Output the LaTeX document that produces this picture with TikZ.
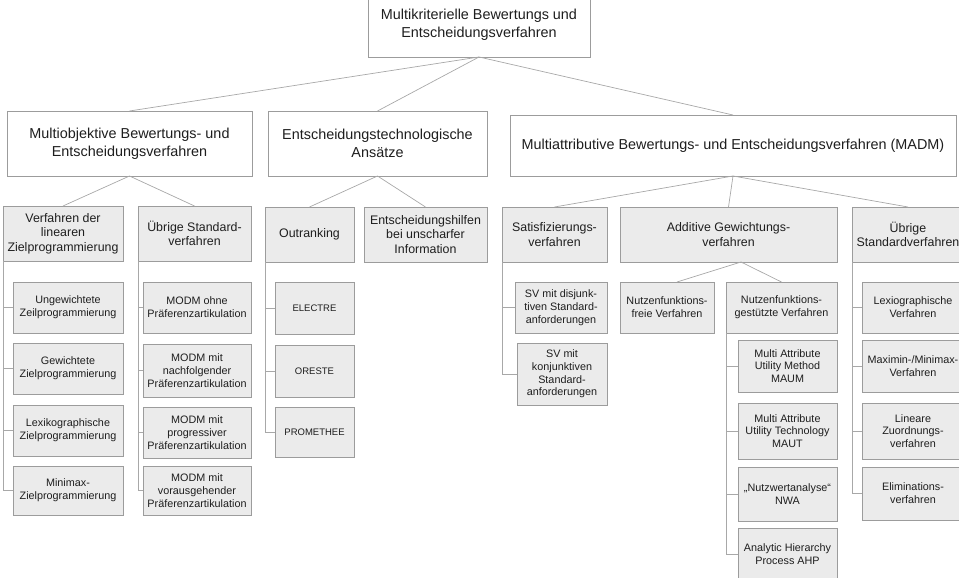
\documentclass[tikz,border=0pt]{standalone}
\usepackage{fontspec}
\setmainfont{Liberation Sans}
\definecolor{boxline}{HTML}{9C9C9C}
\definecolor{boxfill}{HTML}{EBEBEB}
\definecolor{linkcol}{HTML}{A8A8A8}
\definecolor{txt}{HTML}{1E1E1E}
\tikzset{
  basebox/.style={draw=boxline, line width=0.8pt, inner sep=0pt, outer sep=0pt,
    align=center, text=txt},
  headbox/.style={basebox, fill=white, font=\fontsize{14.4}{18}\selectfont},
  groupbox/.style={basebox, fill=boxfill, font=\fontsize{12.4}{14.7}\selectfont},
  leafbox/.style={basebox, fill=boxfill, font=\fontsize{10.8}{12.8}\selectfont},
  smallleaf/.style={basebox, fill=boxfill, font=\fontsize{9.5}{11}\selectfont},
  link/.style={draw=linkcol, line width=0.7pt},
}
% box given by its corners in pixel units: style, name, x1, y1, x2, y2, text
\newcommand\kbox[7]{%
  \node[#1, minimum width={(#5-#3)*1pt}, minimum height={(#6-#4)*1pt}]
    (#2) at ({(#3+#5)/2},{(#4+#6)/2}) {#7};}
\begin{document}
\begin{tikzpicture}[x=1pt, y=-1pt]
\useasboundingbox (0,0) rectangle (959,578);
\begin{scope}
\clip (0,0) rectangle (959,578);

% root and first level
\kbox{headbox}{root}{368}{-7}{590}{57}{Multikriterielle Bewertungs und\\Entscheidungsverfahren}
\kbox{headbox}{mo}{7}{111}{252}{176}{Multiobjektive Bewertungs- und\\Entscheidungsverfahren}
\kbox{headbox}{et}{268}{111}{487}{176}{Entscheidungstechnologische\\Ansätze}
\kbox{headbox}{madm}{510}{115}{956}{176}{Multiattributive Bewertungs- und Entscheidungsverfahren (MADM)}

% second level
\kbox{groupbox}{vdl}{3}{206}{123}{261}{Verfahren der\\linearen\\Zielprogrammierung}
\kbox{groupbox}{uebA}{138}{206}{251}{261}{Übrige Standard-\\verfahren}
\kbox{groupbox}{out}{265}{207}{354}{262}{Outranking}
\kbox{groupbox}{ehi}{364}{207}{487}{262}{Entscheidungshilfen\\bei unscharfer\\Information}
\kbox{groupbox}{sat}{502}{207}{607}{262}{Satisfizierungs-\\verfahren}
\kbox{groupbox}{add}{620}{207}{837}{262}{Additive Gewichtungs-\\verfahren}
\kbox{groupbox}{uebB}{852}{207}{964}{262}{Übrige\\Standardverfahren}

% lineare Zielprogrammierung
\kbox{leafbox}{zA}{13}{282}{123}{333}{Ungewichtete\\Zeilprogrammierung}
\kbox{leafbox}{zB}{13}{343}{123}{394}{Gewichtete\\Zielprogrammierung}
\kbox{leafbox}{zC}{13}{405}{123}{456}{Lexikographische\\Zielprogrammierung}
\kbox{leafbox}{zD}{13}{466}{123}{515}{Minimax-\\Zielprogrammierung}

% uebrige Standardverfahren (MODM)
\kbox{leafbox}{mA}{143}{282}{251}{333}{MODM ohne\\Präferenzartikulation}
\kbox{leafbox}{mB}{143}{344}{251}{397}{MODM mit\\nachfolgender\\Präferenzartikulation}
\kbox{leafbox}{mC}{143}{407}{251}{458}{MODM mit\\progressiver\\Präferenzartikulation}
\kbox{leafbox}{mD}{143}{466}{251}{515}{MODM mit\\vorausgehender\\Präferenzartikulation}

% Outranking
\kbox{smallleaf}{oA}{275}{282}{354}{334}{ELECTRE}
\kbox{smallleaf}{oB}{275}{345}{354}{397}{ORESTE}
\kbox{smallleaf}{oC}{275}{407}{354}{457}{PROMETHEE}

% Satisfizierungsverfahren
\kbox{leafbox}{sA}{515}{282}{607}{333}{SV mit disjunk-\\tiven Standard-\\anforderungen}
\kbox{leafbox}{sB}{517}{343}{607}{405}{SV mit\\konjunktiven\\Standard-\\anforderungen}

% Additive Gewichtungsverfahren
\kbox{leafbox}{nff}{620}{282}{714}{333}{Nutzenfunktions-\\freie Verfahren}
\kbox{leafbox}{nfg}{726}{282}{837}{333}{Nutzenfunktions-\\gestützte Verfahren}
\kbox{leafbox}{aA}{738}{340}{837}{392}{Multi Attribute\\Utility Method\\MAUM}
\kbox{leafbox}{aB}{738}{403}{837}{459}{Multi Attribute\\Utility Technology\\MAUT}
\kbox{leafbox}{aC}{738}{467}{837}{521}{„Nutzwertanalyse“\\NWA}
\kbox{leafbox}{aD}{738}{528}{837}{580}{Analytic Hierarchy\\Process AHP}

% uebrige Standardverfahren (MADM)
\kbox{leafbox}{rA}{862}{282}{964}{333}{Lexiographische\\Verfahren}
\kbox{leafbox}{rB}{862}{340}{964}{392}{Maximin-/Minimax-\\Verfahren}
\kbox{leafbox}{rC}{862}{403}{964}{459}{Lineare\\Zuordnungs-\\verfahren}
\kbox{leafbox}{rD}{862}{467}{964}{520}{Eliminations-\\verfahren}

% fan-out connectors
\foreach \c in {mo, et, madm} \draw[link] (root.south) -- (\c.north);
\foreach \c in {vdl, uebA} \draw[link] (mo.south) -- (\c.north);
\foreach \c in {out, ehi} \draw[link] (et.south) -- (\c.north);
\foreach \c in {sat, add, uebB} \draw[link] (madm.south) -- (\c.north);
\draw[link] ([xshift=12.5pt]add.south) -- ([xshift=10pt]nff.north);
\draw[link] ([xshift=12.5pt]add.south) -- (nfg.north);

% bracket connectors to the children lists
\foreach \c in {zA, zB, zC, zD} \draw[link] (vdl.south west) |- (\c.west);
\foreach \c in {mA, mB, mC, mD} \draw[link] (uebA.south west) |- (\c.west);
\foreach \c in {oA, oB, oC} \draw[link] (out.south west) |- (\c.west);
\foreach \c in {sA, sB} \draw[link] (sat.south west) |- (\c.west);
\foreach \c in {aA, aB, aC, aD} \draw[link] (nfg.south west) |- (\c.west);
\foreach \c in {rA, rB, rC, rD} \draw[link] (uebB.south west) |- (\c.west);
\end{scope}
\end{tikzpicture}
\end{document}
